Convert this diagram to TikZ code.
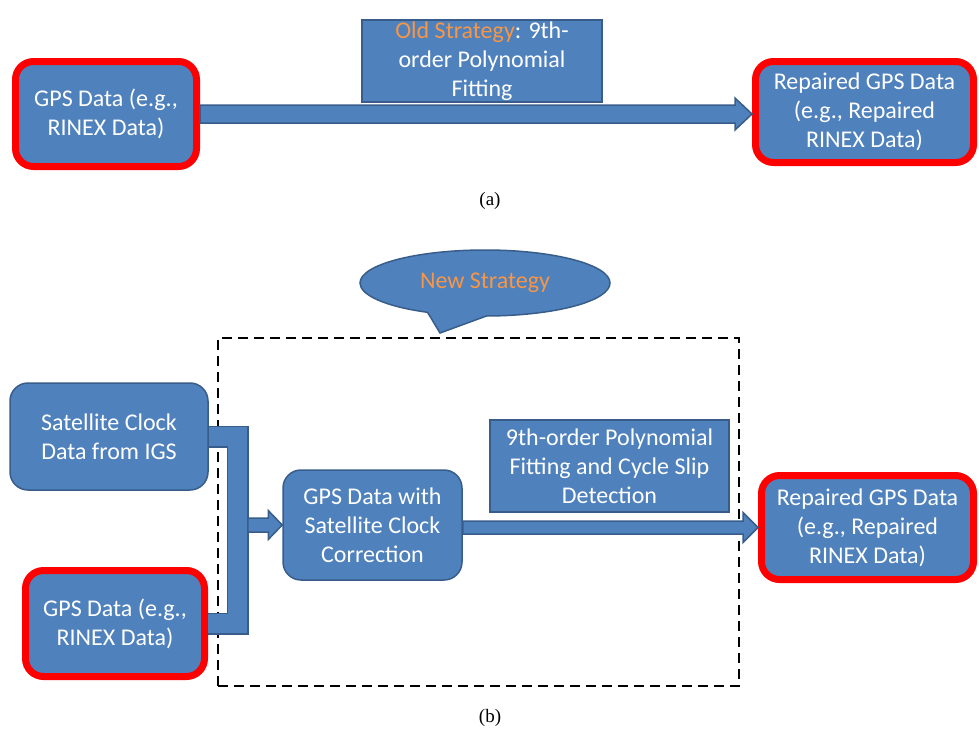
\documentclass[tikz,border=0pt]{standalone}
\usepackage{fontspec}
\setmainfont{Carlito}
\newfontfamily\capfont{Liberation Serif}
\usetikzlibrary{calc,shapes.callouts}
\definecolor{bfill}{HTML}{4F81BD}
\definecolor{bline}{HTML}{385D8A}
\definecolor{orng}{HTML}{F79646}
\begin{document}
\begin{tikzpicture}[x=1pt,y=-1pt,
  every node/.style={font=\fontsize{24}{29}\selectfont, text=white, align=center, inner sep=0pt},
  rbox/.style={draw=bline, fill=bfill, line width=1.5pt, rounded corners=18pt},
  redbox/.style={draw=red, fill=bfill, line width=7pt, rounded corners=18pt},
  sqbox/.style={draw=bline, fill=bfill, line width=1.5pt},
  blk/.style={draw=bline, fill=bfill, line width=1.5pt, line join=miter},
  captext/.style={font=\capfont\fontsize{19}{23}\selectfont, text=black}]
\useasboundingbox (0,0) rectangle (979,734);

% ---------- (a) ----------
\node[redbox, minimum width=181pt, minimum height=105pt] (a1) at (106,114) {GPS Data (e.g.,\\RINEX Data)};
\node[redbox, minimum width=218pt, minimum height=101pt] (a2) at (864.5,112) {Repaired GPS Data\\(e.g., Repaired\\RINEX Data)};
\node[sqbox, minimum width=240pt, minimum height=82pt] (old) at (482,61) {\textcolor{orng}{Old Strategy}: 9th-\\order Polynomial\\Fitting};
\draw[blk] let \p1=(a1.east), \p2=(a2.west) in
  (\x1,\y1+9) -- (\x2-17,\y1+9) -- (\x2-17,\y1+16) -- (\x2,\y1) -- (\x2-17,\y1-16) -- (\x2-17,\y1-9) -- (\x1,\y1-9) -- cycle;
\node[captext] (capa) at (490,201) {(a)};

% ---------- (b) ----------
\node[ellipse callout, draw=bline, fill=bfill, line width=1.5pt, minimum width=250pt, minimum height=66pt,
  callout absolute pointer={(440,333)}, callout pointer arc=28] (new) at (485,283) {\textcolor{orng}{New Strategy}};
\node[draw=black, dash pattern=on 10pt off 6pt, line width=2.5pt, minimum width=521pt, minimum height=348pt] (dbox) at (478.5,512) {};

\node[rbox, minimum width=198pt, minimum height=107pt] (sat) at (109,436.5) {Satellite Clock\\Data from IGS};
\node[redbox, minimum width=179pt, minimum height=106pt] (gps2) at (115,623.5) {GPS Data (e.g.,\\RINEX Data)};
\node[rbox, minimum width=179pt, minimum height=110pt] (mid) at (372.5,525) {GPS Data with\\Satellite Clock\\Correction};
\node[sqbox, minimum width=239pt, minimum height=92pt] (fit) at (609.5,466) {9th-order Polynomial\\Fitting and Cycle Slip\\Detection};
\node[redbox, minimum width=212pt, minimum height=104pt] (rb) at (867.5,527.5) {Repaired GPS Data\\(e.g., Repaired\\RINEX Data)};

% bracket joining the two inputs
\path (sat.east) ++(29,0) coordinate (bv);
\draw[bline, line width=22pt, line join=miter] (sat.east) -- (bv) |- (gps2.east);
\draw[bfill, line width=19pt, line join=miter] (sat.east) -- (bv) |- (gps2.east);
\path (bv) ++(10,0) coordinate (bo);
\coordinate (bj) at (bo |- mid.west);
\draw[blk] let \p1=(bj), \p2=(mid.west) in
  (\x1,\y1+7) -- (\x2-14,\y1+7) -- (\x2-14,\y1+14.5) -- (\x2,\y1) -- (\x2-14,\y1-14.5) -- (\x2-14,\y1-7) -- (\x1,\y1-7) -- cycle;

% arrow to repaired data
\coordinate (ms) at (mid.east |- rb.west);
\draw[blk] let \p1=(ms), \p2=(rb.west) in
  (\x1,\y1+6.5) -- (\x2-15,\y1+6.5) -- (\x2-15,\y1+15) -- (\x2,\y1) -- (\x2-15,\y1-15) -- (\x2-15,\y1-6.5) -- (\x1,\y1-6.5) -- cycle;

\node[captext] (capb) at (490,718) {(b)};
\end{tikzpicture}
\end{document}
